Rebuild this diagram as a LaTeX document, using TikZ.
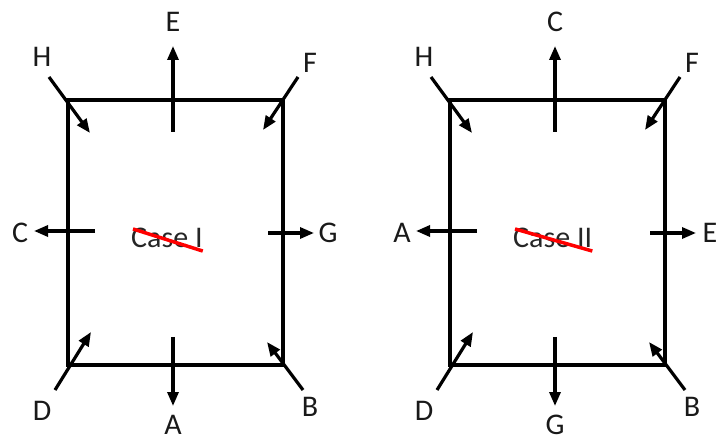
\documentclass[tikz,border=0pt]{standalone}
\usepackage{fontspec}
\setmainfont{Carlito}
\usetikzlibrary{arrows.meta}
\tikzset{
  frame/.style   = {draw=black, line width=4.2pt, line join=miter},
  force/.style   = {-{Triangle[length=14pt,width=11pt]}, draw=black, line width=3.2pt},
  lbl/.style     = {font=\fontsize{30}{30}\selectfont, text=black!90, inner sep=0pt},
  casetxt/.style = {font=\fontsize{30}{30}\selectfont, text=black!85, inner sep=0pt, anchor=west},
  strike/.style  = {draw=red, line width=3.5pt},
}

\begin{document}
\begin{tikzpicture}[x=1pt,y=-1pt]
\useasboundingbox (0,0) rectangle (717,443);

% the two cases, same square, labels moved round
\foreach \dx/\cs/\up/\lf/\rt/\dn in {0/I/E/C/G/A, 382/II/C/A/E/G}{
\begin{scope}[xshift=\dx pt]
  % square
  \draw[frame] (68,100) rectangle (283,365);

  % case name, struck out
  \node[casetxt] (case\cs) at (131,238) {Case \cs};
  \draw[strike] ([xshift=2pt,yshift=-1pt]case\cs.north west) -- ([yshift=-3pt]case\cs.south east);

  % labels
  \node[lbl] (labH\cs) at (42,57)   {H};
  \node[lbl] (labF\cs) at (310,63)  {F};
  \node[lbl] (labD\cs) at (42,411)  {D};
  \node[lbl] (labB\cs) at (310,407) {B};
  \node[lbl] (labU\cs) at (173,22)  {\up};
  \node[lbl] (labL\cs) at (20,233)  {\lf};
  \node[lbl] (labR\cs) at (328,233) {\rt};
  \node[lbl] (labW\cs) at (173,425) {\dn};

  % end points of the arrows
  \coordinate (h0\cs) at (49,77);   \coordinate (h1\cs) at (90,133);
  \coordinate (f0\cs) at (298,77);  \coordinate (f1\cs) at (263,130);
  \coordinate (d0\cs) at (55,390);  \coordinate (d1\cs) at (91,332);
  \coordinate (b0\cs) at (303,390); \coordinate (b1\cs) at (267,342);
  \coordinate (u0\cs) at (173,132); \coordinate (u1\cs) at (173,46);
  \coordinate (l0\cs) at (95,231);  \coordinate (l1\cs) at (34,231);
  \coordinate (r0\cs) at (268,233); \coordinate (r1\cs) at (314,233);
  \coordinate (w0\cs) at (173,337); \coordinate (w1\cs) at (173,406);

  % corner arrows point in, side arrows point out
  \draw[force] (h0\cs) -- (h1\cs);
  \draw[force] (f0\cs) -- (f1\cs);
  \draw[force] (d0\cs) -- (d1\cs);
  \draw[force] (b0\cs) -- (b1\cs);
  \draw[force] (u0\cs) -- (u1\cs);
  \draw[force] (l0\cs) -- (l1\cs);
  \draw[force] (r0\cs) -- (r1\cs);
  \draw[force] (w0\cs) -- (w1\cs);
\end{scope}}
\end{tikzpicture}
\end{document}
